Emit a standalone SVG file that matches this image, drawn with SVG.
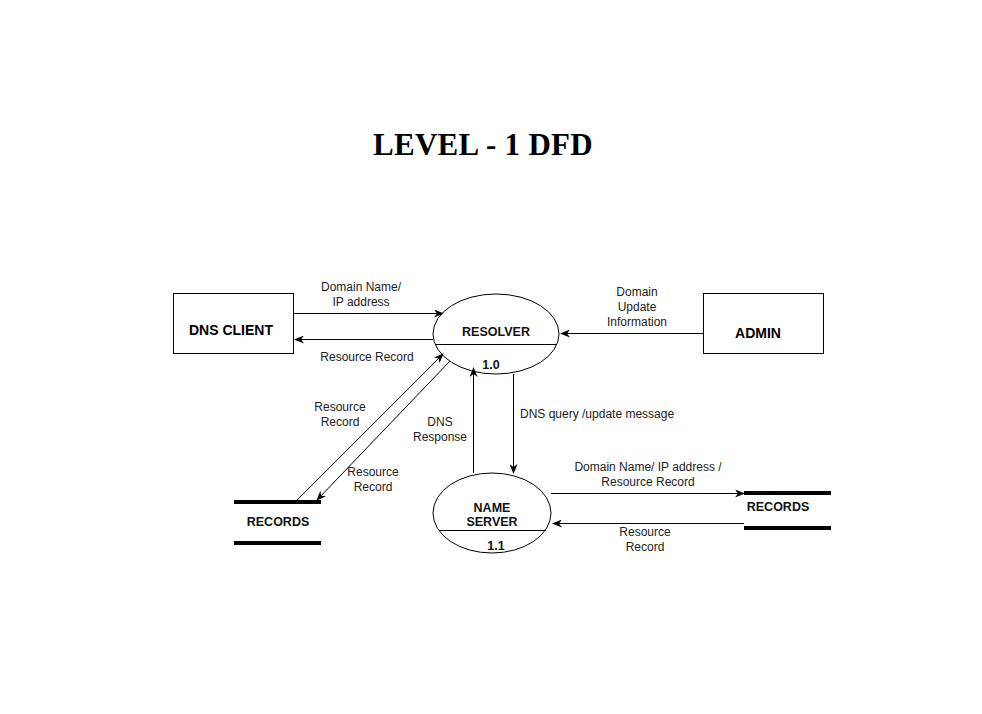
<svg xmlns="http://www.w3.org/2000/svg" width="982" height="714" viewBox="0 0 982 714">
<style>
.lbl{font-family:"Liberation Sans",Arial,sans-serif;font-size:12px;fill:#222;text-anchor:middle}
.nd{font-family:"Liberation Sans",Arial,sans-serif;font-size:12.5px;font-weight:bold;fill:#111;text-anchor:middle}
.ent{font-family:"Liberation Sans",Arial,sans-serif;font-size:14px;font-weight:bold;fill:#000;text-anchor:middle}
.box{fill:#fff;stroke:#000;stroke-width:1}
.ln{stroke:#000;stroke-width:1;fill:none}
.bar{stroke:#000;stroke-width:4}
</style>
<defs>
<marker id="ah" markerWidth="10" markerHeight="8" refX="9" refY="4" orient="auto" markerUnits="userSpaceOnUse">
<path d="M0,0 L10,4 L0,8 L3,4 Z" fill="#000"/>
</marker>
</defs>
<rect width="982" height="714" fill="#fff"/>
<text x="483" y="155" font-family="Liberation Serif,'Times New Roman',serif" font-size="31" font-weight="bold" text-anchor="middle" fill="#000" letter-spacing="0.3">LEVEL - 1 DFD</text>

<g id="dns-client">
<rect class="box" x="173.5" y="293.5" width="120" height="60"/>
<text class="ent" x="231" y="335">DNS CLIENT</text>
</g>
<g id="admin">
<rect class="box" x="703.5" y="293.5" width="120" height="60"/>
<text class="ent" x="758" y="338">ADMIN</text>
</g>
<g id="resolver">
<ellipse class="box" cx="496" cy="334" rx="63" ry="40"/>
<line class="ln" x1="435" y1="344.5" x2="557" y2="344.5"/>
<text class="nd" x="496" y="336">RESOLVER</text>
<text class="nd" x="491" y="369">1.0</text>
</g>
<g id="name-server">
<ellipse class="box" cx="492" cy="513" rx="59" ry="40"/>
<line class="ln" x1="439" y1="530.5" x2="546" y2="530.5"/>
<text class="nd" x="492" y="512">NAME</text>
<text class="nd" x="492" y="526">SERVER</text>
<text class="nd" x="496" y="550">1.1</text>
</g>
<g id="records-left">
<line class="bar" x1="234" y1="502" x2="321" y2="502"/>
<line class="bar" x1="234" y1="543" x2="321" y2="543"/>
<text class="nd" x="278" y="526">RECORDS</text>
</g>
<g id="records-right">
<line class="bar" x1="744" y1="493" x2="831" y2="493"/>
<line class="bar" x1="744" y1="528" x2="831" y2="528"/>
<text class="nd" x="778" y="511">RECORDS</text>
</g>

<g id="connectors">
<line class="ln" x1="293" y1="313.5" x2="443" y2="313.5" marker-end="url(#ah)"/>
<line class="ln" x1="433" y1="339.5" x2="295" y2="339.5" marker-end="url(#ah)"/>
<line class="ln" x1="703" y1="333.5" x2="561" y2="333.5" marker-end="url(#ah)"/>
<line class="ln" x1="513.5" y1="374" x2="513.5" y2="473" marker-end="url(#ah)"/>
<line class="ln" x1="473.5" y1="473" x2="473.5" y2="368" marker-end="url(#ah)"/>
<line class="ln" x1="295" y1="502" x2="443" y2="354" marker-end="url(#ah)"/>
<line class="ln" x1="450" y1="361" x2="317" y2="500" marker-end="url(#ah)" stroke="#444"/>
<line class="ln" x1="551" y1="493.5" x2="744" y2="493.5" marker-end="url(#ah)"/>
<line class="ln" x1="744" y1="523.5" x2="553" y2="523.5" marker-end="url(#ah)"/>
</g>

<g id="labels">
<text class="lbl" x="361" y="291">Domain Name/</text>
<text class="lbl" x="361" y="306">IP address</text>
<text class="lbl" x="367" y="361">Resource Record</text>
<text class="lbl" x="637" y="296">Domain</text>
<text class="lbl" x="637" y="311">Update</text>
<text class="lbl" x="637" y="326">Information</text>
<text class="lbl" x="340" y="411">Resource</text>
<text class="lbl" x="340" y="426">Record</text>
<text class="lbl" x="440" y="426">DNS</text>
<text class="lbl" x="440" y="441">Response</text>
<text class="lbl" x="373" y="476">Resource</text>
<text class="lbl" x="373" y="491">Record</text>
<text class="lbl" x="520" y="418" style="text-anchor:start">DNS query /update message</text>
<text class="lbl" x="648" y="471">Domain Name/ IP address /</text>
<text class="lbl" x="648" y="486">Resource Record</text>
<text class="lbl" x="645" y="536">Resource</text>
<text class="lbl" x="645" y="551">Record</text>
</g>
</svg>
